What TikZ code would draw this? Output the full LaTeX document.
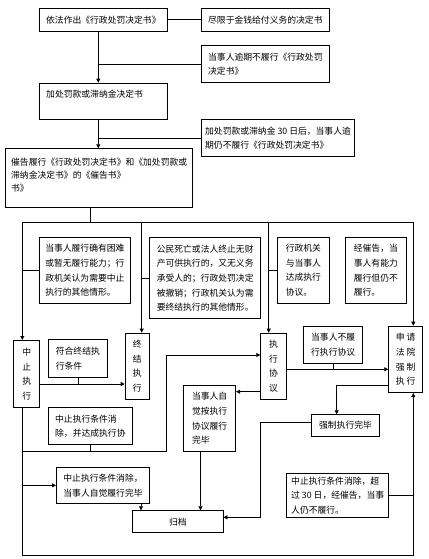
\documentclass[tikz,border=0pt]{standalone}
\usepackage{fontspec}
\setmainfont{Noto Sans CJK SC}
\usetikzlibrary{arrows.meta}
\begin{document}
\begin{tikzpicture}[x=1pt,y=-1pt,
  box/.style={draw=black, line width=0.75pt, anchor=north west, inner sep=0pt, align=left, font=\fontsize{8.8}{14.6}\selectfont},
  vbox/.style={box, align=center},
  txt/.style={anchor=north west, inner sep=0pt, align=left, font=\fontsize{8.8}{13}\selectfont},
  ln/.style={line width=0.75pt},
  arr/.style={ln, -{Triangle[length=4pt,width=4pt]}}]
\fill[white] (0,0) rectangle (428,559);
\useasboundingbox (0,0) rectangle (428,559);
% boxes
\node[box, minimum width=127.4pt, minimum height=22.4pt] (A) at (39.3,8.3) {依法作出《行政处罚决定书》};
\node[box, minimum width=128pt, minimum height=22.4pt] (B) at (201,8.3) {尽限于金钱给付义务的决定书};
\node[box, minimum width=128pt, minimum height=37pt] (D) at (201,45.3) {当事人逾期不履行《行政处罚\\决定书》};
\node[box, minimum width=127.4pt, minimum height=36.6pt] (C) at (39.3,82.7) {};
\node[txt] (Ct) at ([xshift=6.7pt,yshift=-7pt]C.north west) {加处罚款或滞纳金决定书};
\node[box, minimum width=153.3pt, minimum height=36.7pt] (F) at (201,119.3) {加处罚款或滞纳金 30 日后，当事人逾\\期仍不履行《行政处罚决定书》};
\node[box, minimum width=187pt, minimum height=59pt] (E) at (5.3,148.3) {};
\node[txt] (Et) at ([xshift=5.7pt,yshift=-9.5pt]E.north west) {催告履行《行政处罚决定书》和《加处罚款或\\滞纳金决定书》的《催告书》\\书》};
\node[box, minimum width=90.4pt, minimum height=65.4pt] (G) at (39.3,237.3) {当事人履行确有困难\\或暂无履行能力；行\\政机关认为需要中止\\执行的其他情形。};
\node[box, minimum width=111pt, minimum height=81pt] (H) at (149.3,237.3) {公民死亡或法人终止无财\\产可供执行的，又无义务\\承受人的；行政处罚决定\\被撤销；行政机关认为需\\要终结执行的其他情形。};
\node[box, minimum width=51.4pt, minimum height=65.4pt] (I) at (277.3,237.3) {行政机关\\与当事人\\达成执行\\协议。};
\node[box, minimum width=61pt, minimum height=65.4pt] (J) at (345,237.3) {经催告，当\\事人有能力\\履行但仍不\\履行。};
\node[vbox, minimum width=26pt, minimum height=67.3pt] (K) at (13.3,340) {中\\止\\执\\行};
\node[vbox, minimum width=24.6pt, minimum height=66.3pt] (L) at (124.7,332.7) {终\\结\\执\\行};
\node[box, minimum width=59.6pt, minimum height=38pt] (M) at (47.7,339.3) {符合终结执\\行条件};
\node[box, minimum width=84.6pt, minimum height=37pt] (N) at (47.7,407.3) {中止执行条件消\\除，并达成执行协};
\node[vbox, minimum width=25.7pt, minimum height=66.6pt] (O) at (260.3,332.7) {执\\行\\协\\议};
\node[box, minimum width=59pt, minimum height=37.6pt] (V) at (303.3,325.7) {当事人不履\\行执行协议};
\node[vbox, minimum width=34pt, minimum height=66.6pt] (R) at (388.3,325.7) {申 请\\法 院\\强 制\\执 行};
\node[box, minimum width=52pt, minimum height=66pt] (T) at (183.3,385) {当事人自\\觉按执行\\协议履行\\完毕};
\node[vbox, minimum width=68.3pt, minimum height=21.7pt] (U) at (311,414.3) {强制执行完毕};
\node[box, minimum width=93.3pt, minimum height=36.6pt] (P) at (56,466.7) {中止执行条件消除，\\当事人自觉履行完毕};
\node[vbox, minimum width=90.4pt, minimum height=22pt] (S) at (132.3,510.3) {归档};
\node[box, minimum width=102pt, minimum height=43.4pt] (Q) at (286.3,473.3) {中止执行条件消除，超\\过 30 日，经催告，当事\\人仍不履行。};
% helper coordinates
\coordinate (ac) at (98.3,0);
\coordinate (eb) at (90.7,0);
\coordinate (c1) at (22.3,222.3);
\coordinate (c2) at (141.7,222.3);
\coordinate (c3) at (268.7,222.3);
\coordinate (c4) at (413.3,222.3);
\coordinate (b1) at (22.3,555.3);
\coordinate (b4) at (413.3,555.3);
\coordinate (kl) at (0,384);
\coordinate (n1) at (166.7,451);
\coordinate (n2) at (166.7,355);
\coordinate (ot) at (0,391.7);
\coordinate (orr) at (0,369.3);
\coordinate (ru) at (336.7,385.7);
\coordinate (us1) at (260.3,422.3);
\coordinate (us2) at (260.3,517.3);
\coordinate (ts) at (200.5,0);
\coordinate (ps) at (141,0);
% connectors
\draw[ln] (A.east) -- (B.west);
\draw[arr] (ac |- A.south) -- (ac |- C.north);
\draw[ln] (D.west) -- (D.west -| ac);
\draw[arr] (ac |- C.south) -- (ac |- E.north);
\draw[ln] (F.west) -- (F.west -| ac);
\draw[ln] (eb |- E.south) -- (eb |- c1);
\draw[ln] (c1) -- (c4);
\draw[arr] (c1) -- (c1 |- K.north);
\draw[arr] (c2) -- (c2 |- L.north);
\draw[arr] (c3) -- (c3 |- O.north);
\draw[arr] (c4) -- (c4 |- R.north);
\draw[ln] (G.west) -- (G.west -| c1);
\draw[ln] (H.west) -- (H.west -| c2);
\draw[ln] (I.west) -- (I.west -| c3);
\draw[arr] (K.east |- kl) -- (L.west |- kl);
\draw[ln] (M.south) -- (M.south |- kl);
\draw[arr] (c1 |- K.south) -- (b1) -- (b4) -- (b4 |- R.south);
\draw[ln] (Q.east) -- (Q.east -| b4);
\draw[arr] (P.west -| b1) -- (P.west);
\draw[arr] (n1 -| b1) -- (n1) -- (n2) -- (n2 -| O.west);
\draw[ln] (N.south) -- (N.south |- n1);
\draw[arr] (O.west |- ot) -- (T.east |- ot);
\draw[arr] (O.east |- orr) -- (R.west |- orr);
\draw[ln] (V.south) -- (V.south |- orr);
\draw[arr] (R.west |- ru) -- (ru) -- (ru |- U.north);
\draw[arr] (U.west |- us1) -- (us1) -- (us2) -- (us2 -| S.east);
\draw[arr] (ts |- T.south) -- (ts |- S.north);
\draw[arr] (ps |- P.south) -- (ps |- S.north);
\end{tikzpicture}
\end{document}
